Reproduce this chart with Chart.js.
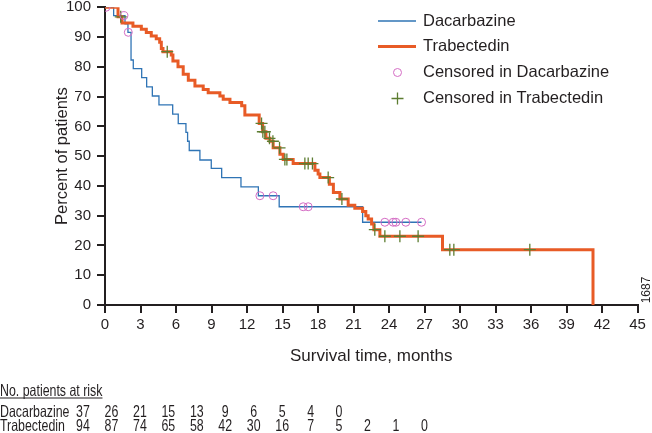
<!DOCTYPE html>
<html>
<head>
<meta charset="utf-8">
<script src="https://cdn.jsdelivr.net/npm/chart.js@4.4.1/dist/chart.umd.min.js"></script>
<style>
  html, body { margin: 0; padding: 0; background: #fff; }
</style>
</head>
<body>
<canvas id="km" width="652" height="433"></canvas>
<script>
// Kaplan-Meier steps: time in months, percent of patients
const dacTimes = [0, 0.73, 1.69, 1.94, 2.2, 2.39, 3.1, 3.52, 4.0, 4.56, 5.72, 6.19, 6.84, 6.98, 7.12,
  8.02, 8.98, 9.86, 11.49, 12.96, 14.72, 21.77, 26.75];
const dacSurv = [100, 97.2, 94.4, 91.6, 82.3, 79.4, 76.4, 73.3, 70.2, 67.2, 64.1, 60.9, 58.0, 55.0, 51.9,
  48.7, 45.9, 42.8, 39.7, 36.7, 33.0, 27.8, 27.8];

const trabTimes = [0, 1.1, 1.44, 2.36, 3.07, 3.49, 3.91, 4.33, 4.62, 4.76, 4.9, 5.6, 5.74, 6.17, 6.61,
  7.04, 7.6, 8.3, 8.72, 9.71, 9.99, 10.56, 11.55, 11.82, 13.03, 13.32, 13.6, 13.94, 14.21, 14.78,
  15.06, 15.9, 17.74, 18.01, 18.16, 18.96, 19.3, 19.85, 20.55, 21.11, 21.77, 22.04, 22.24, 22.53,
  22.72, 23.23, 28.52, 41.24];
const trabSurv = [100, 96.8, 94.7, 93.6, 92.6, 91.5, 90.4, 89.4, 88.3, 86.2, 85.1, 84.0, 82.0, 80.0, 77.5,
  75.5, 73.6, 72.4, 71.3, 70.2, 69.1, 68.0, 66.9, 63.8, 61.0, 58.2, 56.0, 55.0, 52.8, 50.6,
  48.9, 47.5, 45.3, 44.0, 42.8, 40.6, 37.8, 35.6, 33.5, 32.5, 31.4, 30.0, 28.9, 27.2,
  25.3, 23.1, 18.6, 0];

// censoring marks
const dacCensorTimes = [0.08, 1.6, 1.97, 13.09, 14.21, 16.75, 17.17, 23.65, 24.35, 24.58, 25.42, 26.75];
const dacCensorSurv = [100, 97.2, 91.6, 36.7, 36.7, 33.0, 33.0, 27.8, 27.8, 27.8, 27.8, 27.8];
const trabCensorTimes = [1.33, 5.26, 13.23, 13.34, 13.51, 13.9, 14.19, 14.75, 15.2, 15.37, 16.89, 17.17,
  17.53, 18.86, 20.02, 22.8, 23.65, 24.92, 26.46, 29.14, 29.48, 35.9];
const trabCensorSurv = [96.8, 85.1, 61.0, 58.2, 58.2, 56.0, 55.0, 52.8, 48.9, 48.9, 47.5, 47.5,
  47.5, 42.8, 35.6, 25.3, 23.1, 23.1, 23.1, 18.6, 18.6, 18.6];

// number at risk table
const riskDac = [37, 26, 21, 15, 13, 9, 6, 5, 4, 0];
const riskTrab = [94, 87, 74, 65, 58, 42, 30, 16, 7, 5, 2, 1, 0];

const BLUE = '#2f74b5';
const ORANGE = '#e85b26';
const PINK = '#d46cc4';
const OLIVE = '#5d7d31';
const INK = '#231f20';
const FONT = "'Liberation Sans', Arial, sans-serif";
const NARROW = "'Liberation Sans Narrow', 'Liberation Sans', Arial, sans-serif";

function toPoints(xs, ys) {
  return xs.map((x, i) => ({ x: x, y: ys[i] }));
}

// draw text squeezed horizontally, like the narrow type of the table
function narrowText(ctx, text, x, y, align) {
  ctx.save();
  ctx.translate(x, y);
  ctx.scale(0.75, 1);
  ctx.textAlign = align;
  ctx.fillText(text, 0, 0);
  ctx.restore();
}

const extrasPlugin = {
  id: 'extras',
  afterDraw(chart) {
    const ctx = chart.ctx;
    ctx.save();

    // legend, top right
    const lx = 378, tx = 423;
    ctx.lineCap = 'butt';
    ctx.strokeStyle = BLUE; ctx.lineWidth = 1.3;
    ctx.beginPath(); ctx.moveTo(lx, 21); ctx.lineTo(lx + 38, 21); ctx.stroke();
    ctx.strokeStyle = ORANGE; ctx.lineWidth = 3;
    ctx.beginPath(); ctx.moveTo(lx, 46.5); ctx.lineTo(lx + 38, 46.5); ctx.stroke();
    ctx.strokeStyle = PINK; ctx.lineWidth = 1;
    ctx.beginPath(); ctx.arc(397.5, 72.5, 4, 0, Math.PI * 2); ctx.stroke();
    ctx.strokeStyle = OLIVE; ctx.lineWidth = 1.3;
    ctx.beginPath();
    ctx.moveTo(391.5, 98.5); ctx.lineTo(403.5, 98.5);
    ctx.moveTo(397.5, 92.5); ctx.lineTo(397.5, 104.5);
    ctx.stroke();

    ctx.fillStyle = INK;
    ctx.font = '16.5px ' + FONT;
    ctx.textAlign = 'left';
    ctx.textBaseline = 'middle';
    ctx.fillText('Dacarbazine', tx, 21);
    ctx.fillText('Trabectedin', tx, 46.5);
    ctx.fillText('Censored in Dacarbazine', tx, 72.5);
    ctx.fillText('Censored in Trabectedin', tx, 98.5);

    // figure code at the right edge
    ctx.save();
    ctx.translate(647, 290);
    ctx.rotate(-Math.PI / 2);
    ctx.font = '12px ' + FONT;
    ctx.textAlign = 'center';
    ctx.fillText('1687', 0, 0);
    ctx.restore();

    // number at risk table
    ctx.font = '16.5px ' + FONT;
    ctx.textBaseline = 'alphabetic';
    narrowText(ctx, 'No. patients at risk', 0, 396, 'left');
    const hw = ctx.measureText('No. patients at risk').width * 0.75;
    ctx.fillRect(0, 397.5, hw, 1);
    narrowText(ctx, 'Dacarbazine', 0, 416.5, 'left');
    narrowText(ctx, 'Trabectedin', 0, 430.5, 'left');
    riskDac.forEach((n, i) => narrowText(ctx, String(n), 83 + i * 28.45, 416.5, 'center'));
    riskTrab.forEach((n, i) => narrowText(ctx, String(n), 83 + i * 28.45, 430.5, 'center'));

    ctx.restore();
  }
};

new Chart(document.getElementById('km'), {
  type: 'line',
  data: {
    datasets: [
      {
        label: 'Censored in Dacarbazine',
        data: toPoints(dacCensorTimes, dacCensorSurv),
        showLine: false,
        pointStyle: 'circle',
        pointRadius: 4,
        pointBorderWidth: 1,
        pointBorderColor: PINK,
        pointBackgroundColor: 'rgba(0,0,0,0)',
        order: 0
      },
      {
        label: 'Censored in Trabectedin',
        data: toPoints(trabCensorTimes, trabCensorSurv),
        showLine: false,
        pointStyle: 'cross',
        pointRadius: 6,
        pointBorderWidth: 1.3,
        pointBorderColor: OLIVE,
        order: 0
      },
      {
        label: 'Trabectedin',
        data: toPoints(trabTimes, trabSurv),
        stepped: true,
        borderColor: ORANGE,
        borderWidth: 3,
        pointRadius: 0,
        fill: false,
        order: 1
      },
      {
        label: 'Dacarbazine',
        data: toPoints(dacTimes, dacSurv),
        stepped: true,
        borderColor: BLUE,
        borderWidth: 1.3,
        pointRadius: 0,
        fill: false,
        order: 2
      }
    ]
  },
  options: {
    responsive: false,
    animation: false,
    layout: { padding: { top: 5, right: 14.5, bottom: 66, left: 0 } },
    plugins: {
      legend: { display: false },
      tooltip: { enabled: false }
    },
    scales: {
      x: {
        type: 'linear',
        min: 0,
        max: 45,
        ticks: { stepSize: 3, color: INK, padding: 3, font: { size: 15, family: NARROW } },
        grid: { drawOnChartArea: false, drawTicks: true, tickLength: 8, color: INK, lineWidth: 2 },
        border: { color: INK, width: 2 },
        title: { display: true, text: 'Survival time, months', color: INK,
          font: { size: 17, family: FONT }, padding: { top: 0, bottom: 0 } },
        afterFit(scale) { scale.height = 62; }
      },
      y: {
        min: 0,
        max: 100,
        ticks: { stepSize: 10, color: INK, padding: 6, font: { size: 15, family: NARROW } },
        grid: { drawOnChartArea: false, drawTicks: true, tickLength: 8, color: INK, lineWidth: 2 },
        border: { color: INK, width: 2 },
        title: { display: true, text: 'Percent of patients', color: INK,
          font: { size: 16.5, family: FONT }, padding: { top: 53, bottom: 0 } },
        afterFit(scale) { scale.width = 105; scale.paddingTop = 0; scale.paddingBottom = 0; }
      }
    }
  },
  plugins: [extrasPlugin]
});
</script>
</body>
</html>
